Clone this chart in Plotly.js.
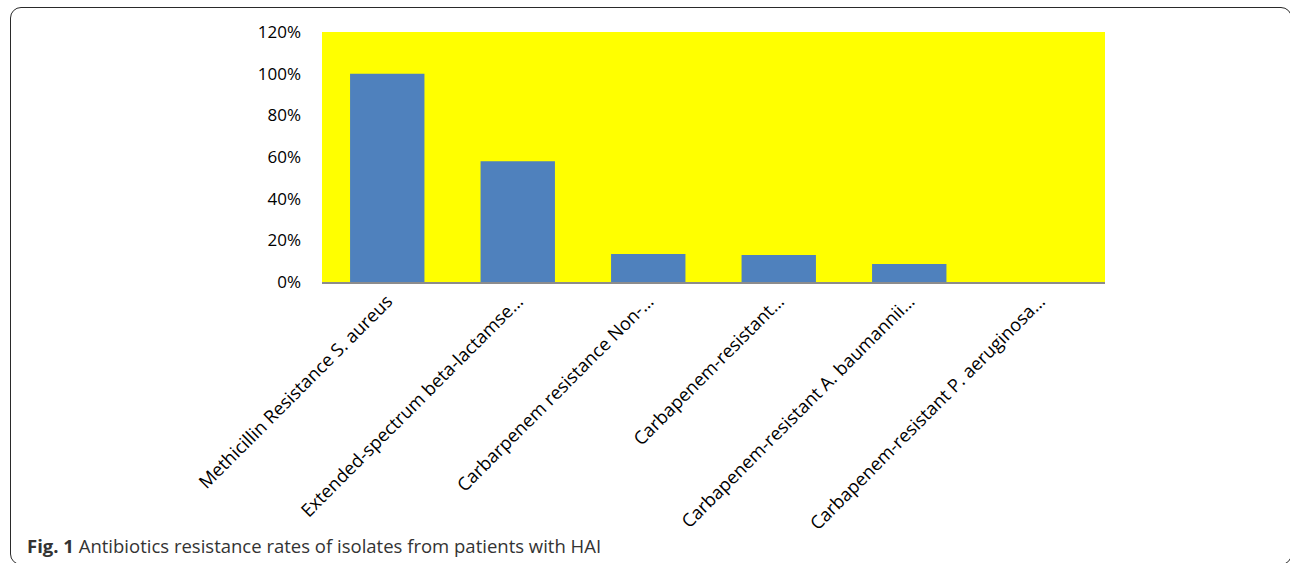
<!DOCTYPE html>
<html>
<head>
<meta charset="utf-8">
<script src="https://cdn.plot.ly/plotly-3.0.1.min.js"></script>
<style>
  html, body { margin: 0; padding: 0; background: #fff; }
  #wrap { position: relative; width: 1290px; height: 563px; overflow: hidden; }
  #frame { position: absolute; left: 10px; top: 7px; width: 1282px; height: 558px;
           border: 1.6px solid #2a2a2a; border-radius: 11px; box-sizing: border-box; }
  #chart { position: absolute; left: 0; top: 0; width: 1290px; height: 563px; }
</style>
</head>
<body>
<div id="wrap">
  <div id="frame"></div>
  <div id="chart"></div>
</div>
<script>
const categories = [
  "Methicillin Resistance S. aureus",
  "Extended-spectrum beta-lactamse…",
  "Carbarpenem resistance Non-…",
  "Carbapenem-resistant…",
  "Carbapenem-resistant A. baumannii…",
  "Carbapenem-resistant P. aeruginosa…"
];
const rates = [100, 58, 13.4, 13, 8.6, 0];
const yTicks = [0, 20, 40, 60, 80, 100, 120];
const captionBold = "Fig. 1";
const captionText = "Antibiotics resistance rates of isolates from patients with HAI";

const trace = {
  type: 'bar',
  x: categories,
  y: rates,
  marker: { color: '#4F81BD' },
  hoverinfo: 'x+y'
};

const layout = {
  width: 1290, height: 563,
  margin: { l: 322, r: 185, t: 32, b: 281 },
  paper_bgcolor: 'rgba(0,0,0,0)',
  plot_bgcolor: '#FFFF00',
  bargap: 0.43,
  showlegend: false,
  font: { family: '"Open Sans", Lato, sans-serif', color: '#000', size: 16 },
  xaxis: {
    type: 'category',
    tickangle: -45,
    showline: true, linecolor: '#8c8c8c', linewidth: 1.5,
    ticks: '', showgrid: false, zeroline: false,
    tickfont: { size: 18.2, color: '#000' },
    automargin: false
  },
  yaxis: {
    range: [0, 120],
    tickvals: yTicks,
    ticktext: yTicks.map(v => v + '%'),
    showline: false, showgrid: false, zeroline: false,
    ticks: '', ticklabelstandoff: 20,
    tickfont: { size: 17, color: '#000' },
    automargin: false
  },
  annotations: [{
    xref: 'paper', yref: 'paper',
    x: (25 - 322) / 783, y: -(545 - 282) / 250,
    xanchor: 'left', yanchor: 'middle',
    showarrow: false,
    align: 'left',
    text: '<b>' + captionBold + '</b> ' + captionText,
    font: { family: '"Open Sans", sans-serif', size: 18.5, color: '#333' }
  }]
};

Plotly.newPlot('chart', [trace], layout, { displayModeBar: false, staticPlot: true });
</script>
</body>
</html>
